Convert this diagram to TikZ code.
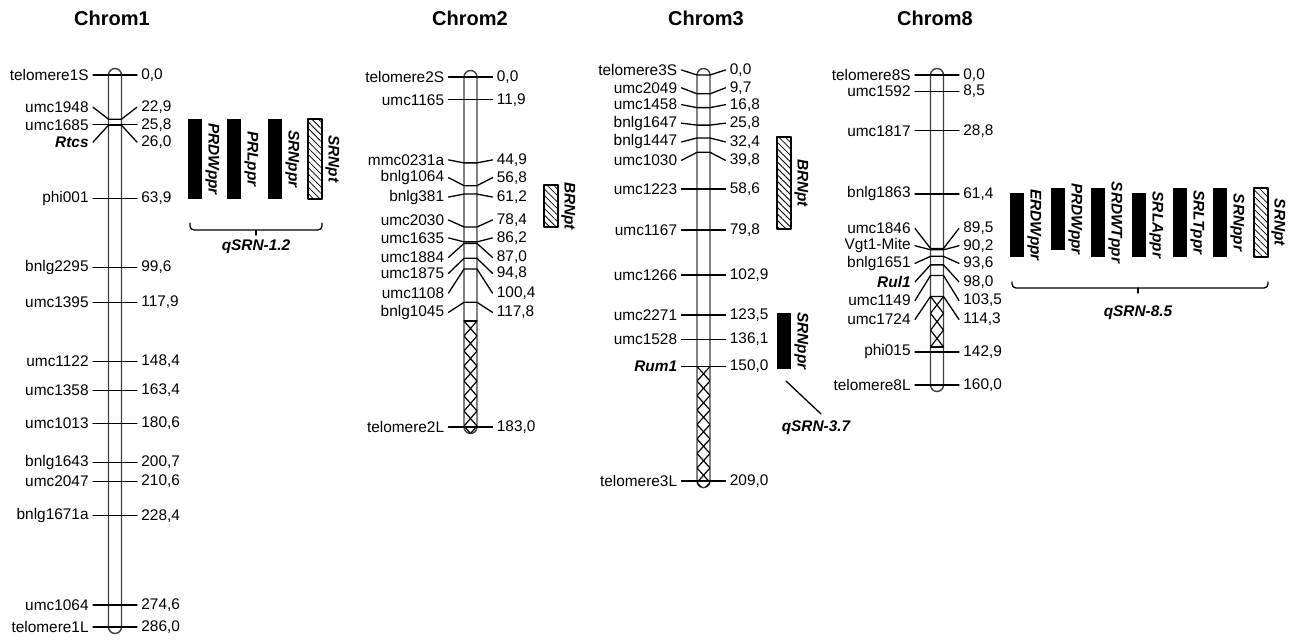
\documentclass[tikz,border=0pt]{standalone}
\usepackage{fontspec}
\setmainfont{Liberation Sans}
\usetikzlibrary{patterns.meta}
\newcommand{\locus}[1]{{\bfseries\itshape #1}}
\newcommand{\cmv}[1]{\pgfmathprintnumber[fixed,fixed zerofill,precision=1,use comma,assume math mode=true]{#1}}
\tikzset{
  every picture/.style={
    x=0.5pt, y=-0.5pt,              % one unit = one pixel of the map
    line join=round,
    line cap=round,
  },
  chrbar/.style={draw=black!75, fill=white, line width=0.7pt, rounded corners=3.25pt},
  mkline/.style={line width=0.65pt},
  xchain/.style={line width=0.6pt},
  lbl/.style={anchor=east, inner sep=2pt, font=\fontsize{7.7}{9}\selectfont},
  val/.style={anchor=west, inner sep=2pt, font=\fontsize{7.7}{9}\selectfont},
  chrtitle/.style={font=\fontsize{10}{12}\selectfont\bfseries},
  qtl/.style={fill=black},
  qtlpt/.style={draw=black, line width=0.6pt,
    pattern={Lines[angle=-45,distance=2.3pt,line width=0.4pt]}},
  qlab/.style={rotate=-90, anchor=south, inner sep=1.5pt,
    font=\fontsize{7.7}{9}\selectfont\bfseries\itshape},
  qname/.style={font=\fontsize{7.7}{9}\selectfont\bfseries\itshape},
}

\begin{document}
\begin{tikzpicture}
    \useasboundingbox (0,0) rectangle (1289,640);

    % Titles
    \node[chrtitle] (t1) at (112,18) {Chrom1};
    \node[chrtitle] (t2) at (470,18) {Chrom2};
    \node[chrtitle] (t3) at (706,18) {Chrom3};
    \node[chrtitle] (t8) at (935,18) {Chrom8};

    % Chromosome 1
    \begin{scope}[shift={(115,75)}]
        \def\sc{1.930}
        \draw[chrbar] (-6.5,-6.5) rectangle (6.5,558.5);
        \foreach \nm/\cm/\dy [count=\i] in {telomere1S/0.0/0, umc1948/22.9/-12,
            umc1685/25.8/0, \locus{Rtcs}/26.0/17, phi001/63.9/0, bnlg2295/99.6/0,
            umc1395/117.9/0, umc1122/148.4/0, umc1358/163.4/0, umc1013/180.6/0,
            bnlg1643/200.7/0, umc2047/210.6/0, bnlg1671a/228.4/0, umc1064/274.6/0,
            telomere1L/286.0/0} {
            \pgfmathsetmacro\my{\cm*\sc}
            \pgfmathsetmacro\ly{\my+(\dy)}
            \node[lbl] (c1m\i) at (-22,\ly) {\nm};
            \node[val] (c1v\i) at (22,\ly) {\cmv{\cm}};
            \draw[mkline] (c1m\i.east) -- (-6.5,\my) -- (6.5,\my) -- (c1v\i.west);
        }
    \end{scope}

    % Chromosome 2
    \begin{scope}[shift={(470.5,77)}]
        \def\sc{1.913}
        \draw[chrbar] (-6.5,-6.5) rectangle (6.5,356.5);
        \begin{scope}
            \clip (-7,244) rectangle (7,358);
            \clip[rounded corners=3.25pt] (-6.5,-6.5) rectangle (6.5,356.5);
            \foreach \k in {0,...,7}
                \draw[xchain] (-6.5,244+15*\k) -- (6.5,259+15*\k)
                              (6.5,244+15*\k) -- (-6.5,259+15*\k);
        \end{scope}
        \draw[mkline] (-6.5,244) -- (6.5,244);
        \foreach \nm/\cm/\dy [count=\i] in {telomere2S/0.0/0, umc1165/11.9/0,
            mmc0231a/44.9/-3, bnlg1064/56.8/-8, bnlg381/61.2/3, umc2030/78.4/-7,
            umc1635/86.2/-4, umc1884/87.0/14, umc1875/94.8/15, umc1108/100.4/24,
            bnlg1045/117.8/10, telomere2L/183.0/0} {
            \pgfmathsetmacro\my{\cm*\sc}
            \pgfmathsetmacro\ly{\my+(\dy)}
            \node[lbl] (c2m\i) at (-22,\ly) {\nm};
            \node[val] (c2v\i) at (22,\ly) {\cmv{\cm}};
            \draw[mkline] (c2m\i.east) -- (-6.5,\my) -- (6.5,\my) -- (c2v\i.west);
        }
    \end{scope}

    % Chromosome 3
    \begin{scope}[shift={(703.5,75)}]
        \def\sc{1.943}
        \draw[chrbar] (-6.5,-6.5) rectangle (6.5,412.6);
        \begin{scope}
            \clip (-7,291.5) rectangle (7,414);
            \clip[rounded corners=3.25pt] (-6.5,-6.5) rectangle (6.5,412.6);
            \foreach \k in {0,...,8}
                \draw[xchain] (-6.5,291.5+14.5*\k) -- (6.5,306+14.5*\k)
                              (6.5,291.5+14.5*\k) -- (-6.5,306+14.5*\k);
        \end{scope}
        \foreach \nm/\cm/\dy [count=\i] in {telomere3S/0.0/-5, umc2049/9.7/-6,
            umc1458/16.8/-3, bnlg1647/25.8/-2, bnlg1447/32.4/4, umc1030/39.8/8,
            umc1223/58.6/0, umc1167/79.8/0, umc1266/102.9/0, umc2271/123.5/0,
            umc1528/136.1/0, \locus{Rum1}/150.0/0, telomere3L/209.0/0} {
            \pgfmathsetmacro\my{\cm*\sc}
            \pgfmathsetmacro\ly{\my+(\dy)}
            \node[lbl] (c3m\i) at (-22,\ly) {\nm};
            \node[val] (c3v\i) at (22,\ly) {\cmv{\cm}};
            \draw[mkline] (c3m\i.east) -- (-6.5,\my) -- (6.5,\my) -- (c3v\i.west);
        }
    \end{scope}

    % Chromosome 8
    \begin{scope}[shift={(937,75)}]
        \def\sc{1.9375}
        \draw[chrbar] (-6.5,-6.5) rectangle (6.5,316.5);
        \begin{scope}
            \clip (-6.5,221.5) rectangle (6.5,272);
            \foreach \k in {0,...,2}
                \draw[xchain] (-6.5,221.5+16.8*\k) -- (6.5,238.3+16.8*\k)
                              (6.5,221.5+16.8*\k) -- (-6.5,238.3+16.8*\k);
        \end{scope}
        \draw[mkline] (-6.5,272) -- (6.5,272);
        \foreach \nm/\cm/\dy [count=\i] in {telomere8S/0.0/0, umc1592/8.5/0,
            umc1817/28.8/0, bnlg1863/61.4/0, umc1846/89.5/-20, Vgt1-Mite/90.2/-4,
            bnlg1651/93.6/7, \locus{Rul1}/98.0/17, umc1149/103.5/25,
            umc1724/114.3/23, phi015/142.9/0, telomere8L/160.0/0} {
            \pgfmathsetmacro\my{\cm*\sc}
            \pgfmathsetmacro\ly{\my+(\dy)}
            \node[lbl] (c8m\i) at (-22,\ly) {\nm};
            \node[val] (c8v\i) at (22,\ly) {\cmv{\cm}};
            \draw[mkline] (c8m\i.east) -- (-6.5,\my) -- (6.5,\my) -- (c8v\i.west);
        }
    \end{scope}

    % QTL on chromosome 1
    \foreach \x/\nm [count=\i] in {188/PRDWppr, 227/PRLppr, 268/SRNppr} {
        \fill[qtl] (\x,119) rectangle ++(14,80);
        \node[qlab] (q1\i) at (\x+14,159) {\nm};
    }
    \draw[qtlpt] (308,119) rectangle (322,199);
    \node[qlab] (q1pt) at (322,159) {SRNpt};
    \draw[mkline, rounded corners=2pt] (190,223) |- (322,230) -- (322,223);
    \coordinate (b12) at (256,235);
    \draw[mkline] (256,230) -- (b12);
    \node[qname] (q12) at (256,247) {qSRN-1.2};

    % QTL on chromosome 2
    \draw[qtlpt] (544,185) rectangle (558,227);
    \node[qlab] (q2pt) at (558,206) {BRNpt};

    % QTL on chromosome 3
    \draw[qtlpt] (777,137) rectangle (791,229);
    \node[qlab] (q3pt) at (791,183) {BRNpt};
    \fill[qtl] (777,313) rectangle (791,369);
    \node[qlab] (q3pr) at (791,341) {SRNppr};
    \coordinate (b37) at (786,381);
    \node[qname] (q37) at (816,428) {qSRN-3.7};
    \draw[mkline] (b37) -- ([xshift=2.5pt]q37.north);

    % QTL on chromosome 8
    \foreach \x/\t/\b/\nm [count=\i] in {1010/193/257/ERDWppr, 1051/188/250/PRDWppr,
        1091/188/257/SRDWTppr, 1132/193/257/SRLAppr, 1173/188/257/SRLTppr,
        1213/188/257/SRNppr} {
        \fill[qtl] (\x,\t) rectangle (\x+14,\b);
        \node[qlab] (q8\i) at (\x+14,{(\t+\b)/2}) {\nm};
    }
    \draw[qtlpt] (1254,188) rectangle (1268,257);
    \node[qlab] (q8pt) at (1268,222.5) {SRNpt};
    \draw[mkline, rounded corners=2pt] (1012,282) |- (1268,288) -- (1268,282);
    \coordinate (b85) at (1138,293);
    \draw[mkline] (1138,288) -- (b85);
    \node[qname] (q85) at (1138,313) {qSRN-8.5};
\end{tikzpicture}
\end{document}
